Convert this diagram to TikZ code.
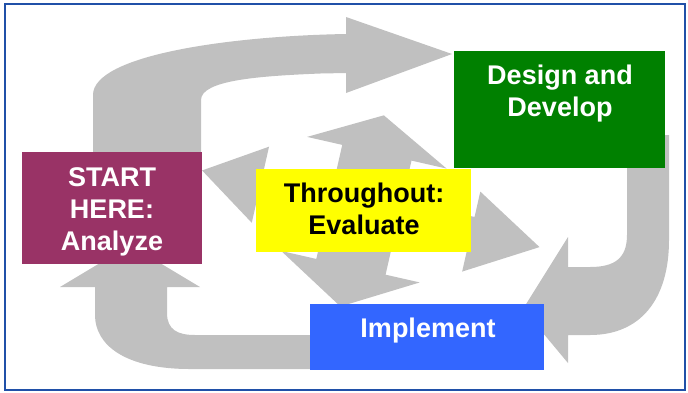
\documentclass[tikz,border=0pt]{standalone}
\usepackage{fontspec}
\setmainfont{Liberation Sans}
\definecolor{arrowgray}{HTML}{C0C0C0}
\definecolor{analyzecol}{HTML}{993366}
\definecolor{designcol}{HTML}{008000}
\definecolor{evalcol}{HTML}{FFFF00}
\definecolor{implcol}{HTML}{3366FF}
\definecolor{framecol}{HTML}{2050A8}
\begin{document}
\begin{tikzpicture}[x=1pt,y=-1pt,
  panel/.style={draw=none, inner sep=0pt, outer sep=0pt},
  label text/.style={inner sep=0pt, align=center, font=\fontsize{27}{32}\selectfont\bfseries},
  grayarrow/.style={fill=arrowgray, draw=none}]
\useasboundingbox (0,0) rectangle (688,392);
\fill[white] (0,0) rectangle (688,392);
% outer cycle: top arrow (Analyze -> Design)
\fill[grayarrow] (93,200) -- (93,95) .. controls (93,55) and (230,36) .. (346,34)
  -- (346,17) -- (452,54) -- (346,93) -- (346,73) -- (320,73.5)
  .. controls (260,76) and (201,80) .. (201,100) -- (201,200) -- cycle;
% right arrow (Design -> Implement)
\fill[grayarrow] (627,135) -- (669,135) -- (669,240)
  .. controls (669,300) and (640,335) .. (590,335) -- (568,335) -- (568,363)
  -- (523,309) -- (568,237) -- (568,267) -- (590,267)
  .. controls (615,267) and (627,258) .. (627,235) -- cycle;
% bottom-left arrow (Implement -> Analyze)
\fill[grayarrow] (130,245) -- (200,287) -- (167,287) -- (167,313)
  .. controls (167,330) and (178,335) .. (195,335) -- (330,335) -- (330,369)
  -- (190,369) .. controls (125,369) and (95,345) .. (95,315) -- (95,287)
  -- (60,287) -- cycle;
% central quad arrow (Evaluate)
\begin{scope}[shift={(363,207)}, rotate=-12.8]
\fill[grayarrow] (181,0) -- (111,-41) -- (111,-15) -- (37,-15) -- (37,-56)
  -- (73,-56) -- (0,-94) -- (-70,-56) -- (-34,-56) -- (-34,-15) -- (-105,-15)
  -- (-105,-38) -- (-165,0) -- (-105,40) -- (-105,15) -- (-34,15) -- (-34,61)
  -- (-70,61) -- (0,102) -- (72,61) -- (37,61) -- (37,15) -- (111,15)
  -- (111,41) -- cycle;
\end{scope}
% boxes
\node[panel, fill=analyzecol, minimum width=180pt, minimum height=112pt] (analyze) at (112,208) {};
\node[panel, fill=designcol, minimum width=211pt, minimum height=117pt] (design) at (559.5,109.5) {};
\node[panel, fill=evalcol, minimum width=215pt, minimum height=83pt] (evaluate) at (363.5,210.5) {};
\node[panel, fill=implcol, minimum width=234pt, minimum height=66pt] (implement) at (427,337) {};
% texts
\node[label text, text=white] (analyzetext) at (112,211.6) {START\\HERE:\\Analyze};
\node[label text, text=white] (designtext) at (560,93.6) {Design and\\Develop};
\node[label text, text=black] (evaluatetext) at (364,208.8) {Throughout:\\Evaluate};
\node[label text, text=white] (implementtext) at (428,330.6) {Implement};
% frame
\draw[framecol, line width=2pt] (5,4) rectangle (685,390);
\end{tikzpicture}
\end{document}
